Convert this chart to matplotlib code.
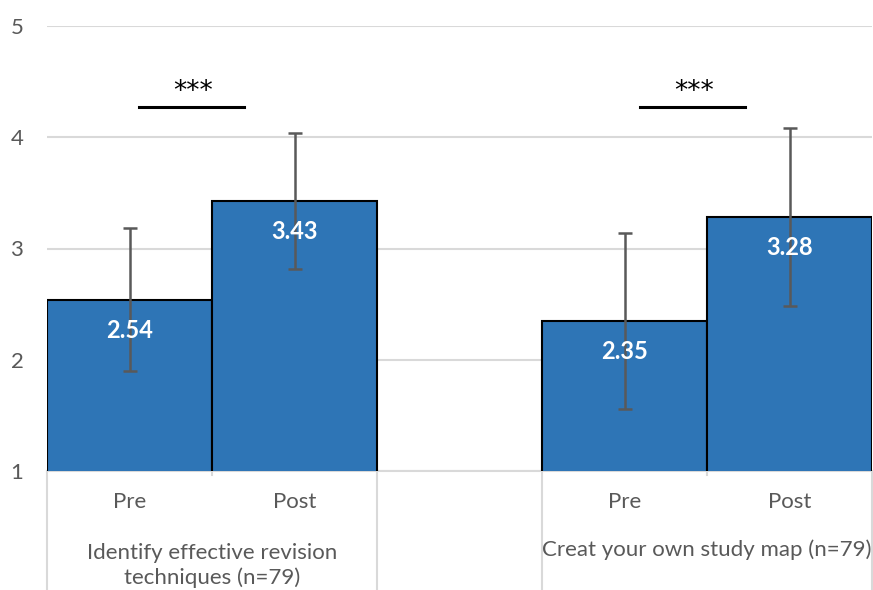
import matplotlib
matplotlib.use("Agg")
import matplotlib.pyplot as plt

plt.rcParams['font.family'] = ['Lato', 'DejaVu Sans']

conditions = ["Pre", "Post", "Pre", "Post"]
groups = ["Identify effective revision\ntechniques (n=79)", "Creat your own study map (n=79)"]
means = [2.54, 3.43, 2.35, 3.28]
sds = [0.64, 0.61, 0.79, 0.80]
sig_labels = ["***", "***"]

xs = [0, 1, 3, 4]
group_centers = [0.5, 3.5]
separators = [-0.5, 1.5, 2.5, 4.5]
# significance bar spans (x from, x to) and label centre
sig_spans = [(0.058, 0.694), (3.094, 3.730)]
sig_text_x = [0.385, 3.42]

W, H = 873, 590
fig = plt.figure(figsize=(W / 100, H / 100), dpi=100)
ax = fig.add_axes([47 / W, (H - 471) / H, 825 / W, 445 / H])

grey = "#595959"
ax.bar(xs, means, width=1.0, color="#2E75B6", edgecolor="black", linewidth=1.5, zorder=3)
ax.errorbar(xs, means, yerr=sds, fmt="none", ecolor=grey, elinewidth=1.8,
            capsize=5, capthick=1.8, zorder=4)

for x, m in zip(xs, means):
    ax.annotate(f"{m:.2f}", (x, m), xytext=(0, -22), textcoords="offset points",
                ha="center", va="center", color="white", fontsize=17, fontweight="bold", zorder=5)

ax.set_xlim(-0.5, 4.5)
ax.set_ylim(1, 5)
ax.set_yticks([1, 2, 3, 4, 5])
ax.set_xticks([])
ax.yaxis.grid(True, color="#d9d9d9", linewidth=1.5, zorder=0)
ax.set_axisbelow(True)
ax.tick_params(axis="y", length=0, pad=17, labelsize=16, labelcolor=grey)
for s in ["left", "right", "top"]:
    ax.spines[s].set_visible(False)
ax.spines["bottom"].set_color("#d9d9d9")
ax.spines["bottom"].set_linewidth(1.5)

# significance bars
for (x0, x1), tx, lab in zip(sig_spans, sig_text_x, sig_labels):
    ax.plot([x0, x1], [4.276, 4.276], color="black", lw=2.2, zorder=4)
    ax.text(tx, 4.41, lab, ha="center", va="center", fontsize=19,
            family="DejaVu Sans", color="black")

# two-level category axis below the plot
tr = ax.get_xaxis_transform()
for x, lab in zip(xs, conditions):
    ax.text(x, -0.07, lab, transform=tr, ha="center", va="center", fontsize=16, color=grey)
ax.text(group_centers[0], -0.212, groups[0], transform=tr, ha="center", va="center",
        fontsize=16, color=grey, linespacing=1.3)
ax.text(group_centers[1], -0.176, groups[1], transform=tr, ha="center", va="center",
        fontsize=16, color=grey)
for sx in separators:
    ax.plot([sx, sx], [0, -0.27], transform=tr, color="#d9d9d9", lw=1.5, clip_on=False)
for x in [0.5, 3.5]:
    ax.plot([x, x], [0, -0.01], transform=tr, color="#d9d9d9", lw=1.5, clip_on=False)

fig.savefig("out.png", dpi=100)
